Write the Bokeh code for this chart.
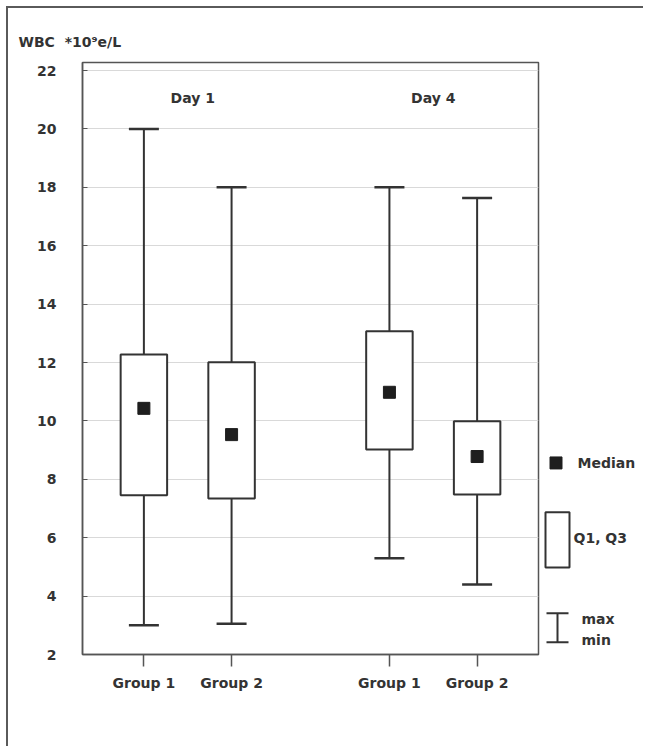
from bokeh.plotting import figure
from bokeh.layouts import row
from bokeh.models import FactorRange, Range1d, FixedTicker, Whisker, TeeHead, ColumnDataSource
from bokeh.core.properties import value
from bokeh.embed import file_html
from bokeh.resources import INLINE

# ---- data ----
days = ["Day 1", "Day 1", "Day 4", "Day 4"]
groups = ["Group 1", "Group 2", "Group 1", "Group 2"]
wbc_min = [3.0, 3.05, 5.3, 4.4]
wbc_q1 = [7.45, 7.34, 9.02, 7.48]
wbc_median = [10.43, 9.53, 10.98, 8.78]
wbc_q3 = [12.27, 12.01, 13.07, 9.99]
wbc_max = [20.0, 18.0, 18.0, 17.63]
y_ticks = [2, 4, 6, 8, 10, 12, 14, 16, 18, 20, 22]
day_labels = ["Day 1", "Day 4"]
y_title = "WBC\u00a0 *10\u2079e/L"
legend_labels = ["Median", "Q1, Q3", "max", "min"]

FONT = "DejaVu Sans"
INK = "#333333"
FRAME = "#555555"

factors = list(zip(days, groups))
src = ColumnDataSource(dict(x=factors, lo=wbc_min, q1=wbc_q1, med=wbc_median,
                            q3=wbc_q3, hi=wbc_max))

x_range = FactorRange(*factors, group_padding=0.8, range_padding=0.2,
                      range_padding_units="absolute")
y_range = Range1d(2, 22.274)

p = figure(width=533, height=738, x_range=x_range, y_range=y_range,
           output_backend="svg", toolbar_location=None,
           min_border_left=74, min_border_right=3, min_border_top=54,
           min_border_bottom=92, title=y_title)

p.title.align = "left"
p.title.offset = -64
p.title.standoff = 25
p.title.text_font = FONT
p.title.text_font_size = "14px"
p.title.text_font_style = "bold"
p.title.text_color = INK

p.outline_line_color = FRAME
p.outline_line_width = 1.5
p.xgrid.grid_line_color = None
p.ygrid.grid_line_color = "#d9d9d9"
p.ygrid.grid_line_width = 1

p.yaxis.ticker = FixedTicker(ticks=y_ticks)
p.yaxis.major_tick_in = 5
p.yaxis.major_tick_out = 0
p.yaxis.minor_tick_line_color = None
p.yaxis.major_label_standoff = 26
p.yaxis.axis_line_color = FRAME
p.yaxis.axis_line_width = 1.5
p.yaxis.major_tick_line_color = FRAME
p.yaxis.major_label_text_font = FONT
p.yaxis.major_label_text_font_size = "14px"
p.yaxis.major_label_text_font_style = "bold"
p.yaxis.major_label_text_color = INK

p.xaxis.major_tick_out = 12
p.xaxis.major_tick_in = 0
p.xaxis.major_tick_line_color = FRAME
p.xaxis.major_tick_line_width = 1.5
p.xaxis.axis_line_color = FRAME
p.xaxis.axis_line_width = 1.5
p.xaxis.major_label_standoff = 8
p.xaxis.major_label_text_font = FONT
p.xaxis.major_label_text_font_size = "14px"
p.xaxis.major_label_text_font_style = "bold"
p.xaxis.major_label_text_color = INK
p.xaxis.group_text_font_size = "0px"
p.xaxis.group_text_color = None
p.xaxis.separator_line_color = None

# whiskers
p.add_layout(Whisker(source=src, base="x", lower="q3", upper="hi", dimension="height",
                     line_color=INK, line_width=2,
                     upper_head=TeeHead(size=30, line_color=INK, line_width=2.5),
                     lower_head=None))
p.add_layout(Whisker(source=src, base="x", lower="lo", upper="q1", dimension="height",
                     line_color=INK, line_width=2,
                     lower_head=TeeHead(size=30, line_color=INK, line_width=2.5),
                     upper_head=None))

# boxes
p.vbar(x="x", top="q3", bottom="q1", width=0.53, source=src,
       fill_color="white", line_color=INK, line_width=2)
# medians
p.scatter(x="x", y="med", source=src, marker="square", size=12,
          fill_color="#1e1e1e", line_color="#1e1e1e")

# day labels
p.text(x=day_labels, y=[21.05, 21.05], text=day_labels, text_font=value(FONT),
       text_font_size="14px", text_font_style="bold", text_color=INK,
       text_align="center", text_baseline="middle", x_offset=[5, 0])

# ---- legend panel ----
q = figure(width=102, height=738, x_range=Range1d(0, 102), y_range=y_range,
           output_backend="svg", toolbar_location=None,
           min_border_left=0, min_border_right=0, min_border_top=54,
           min_border_bottom=92, x_axis_location=None, y_axis_location=None)
q.outline_line_color = None
q.grid.visible = False

q.scatter([14.5], [8.56], marker="square", size=12, fill_color="#1e1e1e",
          line_color="#1e1e1e")
q.quad(left=[4], right=[28], bottom=[4.98], top=[6.87], fill_color="white",
       line_color=INK, line_width=2)
q.segment(x0=[16, 5, 5], y0=[2.42, 3.41, 2.42], x1=[16, 27, 27], y1=[3.41, 3.41, 2.42],
          line_color=INK, line_width=2)
q.text(x=[36, 32, 40, 40], y=[8.56, 6.0, 3.23, 2.51], text=legend_labels,
       text_font=value(FONT), text_font_size="14px", text_font_style="bold",
       text_color=INK, text_align="left", text_baseline="middle")

layout = row(p, q, styles={"border-left": "2px solid #5a5a5a",
                           "border-top": "2px solid #5a5a5a",
                           "margin-left": "6px", "margin-top": "6px"})

open("out.html", "w").write(file_html(layout, INLINE))
